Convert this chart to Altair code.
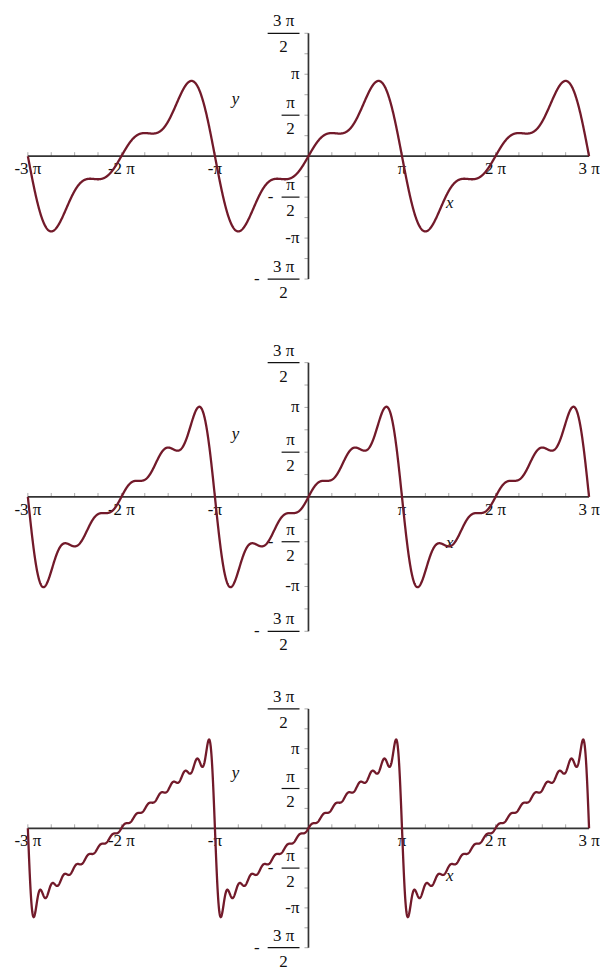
import numpy as np
import pandas as pd
import altair as alt

PI = np.pi

# Sine coefficients b_n of the partial sums  y = sum b_n sin(n x)  (sawtooth series)
coef_panel1 = [2.0, -1.0, 0.6667]
coef_panel2 = [2.0, -1.0, 0.6667, -0.5, 0.4]
coef_panel3 = [2.0, -1.0, 0.6667, -0.5, 0.4, -0.3333, 0.2857, -0.25,
               0.2222, -0.2, 0.1818, -0.1667, 0.1538, -0.1429, 0.1333]
panel_coefs = [coef_panel1, coef_panel2, coef_panel3]

# Tick labels (positions in multiples of pi)
x_tick_mult = [-3, -2, -1, 1, 2, 3]
x_tick_text = ["-3 π", "-2 π", "-π", "π", "2 π", "3 π"]
y_plain_mult = [1, -1]
y_plain_text = ["π", "-π"]
y_frac_mult = [1.5, 0.5, -0.5, -1.5]
y_frac_num = ["3 π", "π", "π", "3 π"]
y_frac_den = ["2", "2", "2", "2"]
y_frac_sign = ["", "", "-", "-"]

# Layout: each panel fills a horizontal band of the page
PAGE_W = 600
X_LEFT = 28            # pixel where x = -3*pi sits
X_SPAN = 564           # pixels covering -3*pi .. 3*pi
SLOTS = [(320, 31, 247), (345, 42, 270), (313, 45, 240)]   # (band height, top of y axis, y-axis length)
NAME_Y = [-0.57, -0.51, -0.6]                              # height of the "x" name, in multiples of pi
FONT = "Liberation Serif"
FS = 17
TXT = "#111111"
CURVE = "#721a2a"
AXIS = "#333333"
TICK = "#a8a8a8"


def panel(coefs, slot, name_y):
    band_h, top, span = slot
    xu = 6 * PI / X_SPAN     # data units per horizontal pixel
    yu = 3 * PI / span       # data units per vertical pixel
    xdom = [-3 * PI - X_LEFT * xu, -3 * PI + (PAGE_W - X_LEFT) * xu]
    ydom = [1.5 * PI - (band_h - top) * yu, 1.5 * PI + top * yu]

    xs = np.linspace(-3 * PI, 3 * PI, 2401)
    ys = np.zeros_like(xs)
    for n, b in enumerate(coefs, start=1):
        ys += b * np.sin(n * xs)
    curve_df = pd.DataFrame({"x": xs, "y": ys})

    xsc = alt.Scale(domain=xdom, nice=False, zero=False)
    ysc = alt.Scale(domain=ydom, nice=False, zero=False)
    X = lambda f: alt.X(f, type="quantitative", scale=xsc, axis=None)
    Y = lambda f: alt.Y(f, type="quantitative", scale=ysc, axis=None)

    # axis lines
    haxis = alt.Chart(pd.DataFrame({"a": [-3 * PI], "b": [3 * PI], "y": [0.0]})).mark_rule(
        color=AXIS, strokeWidth=1.7).encode(x=X("a"), x2="b", y=Y("y"))
    vaxis = alt.Chart(pd.DataFrame({"x": [0.0], "a": [-1.5 * PI], "b": [1.5 * PI]})).mark_rule(
        color=AXIS, strokeWidth=1.7).encode(x=X("x"), y=Y("a"), y2="b")

    # small tick marks
    xt = [k * PI / 4 for k in range(-12, 13) if k != 0]
    xticks = alt.Chart(pd.DataFrame({"x": xt, "a": 0.0, "b": 4 * yu})).mark_rule(
        color=TICK, strokeWidth=1).encode(x=X("x"), y=Y("a"), y2="b")
    yt = [k * PI / 4 for k in range(-6, 7) if k != 0]
    yticks = alt.Chart(pd.DataFrame({"y": yt, "a": -4 * xu, "b": 0.0})).mark_rule(
        color=TICK, strokeWidth=1).encode(y=Y("y"), x=X("a"), x2="b")

    # x tick labels
    xlab = alt.Chart(pd.DataFrame({"x": [m * PI for m in x_tick_mult], "y": 0.0,
                                   "t": x_tick_text})).mark_text(
        font=FONT, fontSize=FS, color=TXT, dy=13, baseline="middle", align="center"
    ).encode(x=X("x"), y=Y("y"), text="t:N")

    # plain y labels
    ylab = alt.Chart(pd.DataFrame({"x": 0.0, "y": [m * PI for m in y_plain_mult],
                                   "t": y_plain_text})).mark_text(
        font=FONT, fontSize=FS, color=TXT, dx=-9, baseline="middle", align="right"
    ).encode(x=X("x"), y=Y("y"), text="t:N")

    # fraction y labels
    bar_w = [32 if len(s) > 1 else 18 for s in y_frac_num]
    frac = pd.DataFrame({
        "y": [m * PI for m in y_frac_mult],
        "num": y_frac_num,
        "den": y_frac_den,
        "sign": y_frac_sign,
        "bl": [-(9 + w) * xu for w in bar_w],
        "br": -9 * xu,
        "bc": [-(9 + w / 2) * xu for w in bar_w],
        "sx": [-(20 + w) * xu for w in bar_w],
    })
    fbase = alt.Chart(frac)
    bars = fbase.mark_rule(color=TXT, strokeWidth=1.2).encode(x=X("bl"), x2="br", y=Y("y"))
    nums = fbase.mark_text(font=FONT, fontSize=FS, color=TXT, dy=-12,
                           baseline="middle", align="center").encode(
        x=X("bc"), y=Y("y"), text="num:N")
    dens = fbase.mark_text(font=FONT, fontSize=FS, color=TXT, dy=14,
                           baseline="middle", align="center").encode(
        x=X("bc"), y=Y("y"), text="den:N")
    signs = fbase.mark_text(font=FONT, fontSize=FS, color=TXT,
                            baseline="middle", align="center").encode(
        x=X("sx"), y=Y("y"), text="sign:N")

    # axis names
    names = alt.Chart(pd.DataFrame({"x": [-0.78 * PI, 1.51 * PI], "y": [0.7 * PI, name_y * PI],
                                    "t": ["y", "x"]})).mark_text(
        font=FONT, fontSize=FS, fontStyle="italic", color=TXT,
        baseline="middle", align="center").encode(x=X("x"), y=Y("y"), text="t:N")

    curve = alt.Chart(curve_df).mark_line(color=CURVE, strokeWidth=2.3).encode(
        x=X("x"), y=Y("y"))

    return alt.layer(xticks, yticks, haxis, vaxis, xlab, ylab, bars, nums, dens,
                     signs, names, curve).properties(width=PAGE_W, height=band_h)


chart = alt.vconcat(
    *[panel(c, s, ny) for c, s, ny in zip(panel_coefs, SLOTS, NAME_Y)], spacing=0
).properties(
    padding=0,
    background="white",
).configure_view(stroke=None)

chart.save("out.html", embed_options={"renderer": "svg", "actions": False})
